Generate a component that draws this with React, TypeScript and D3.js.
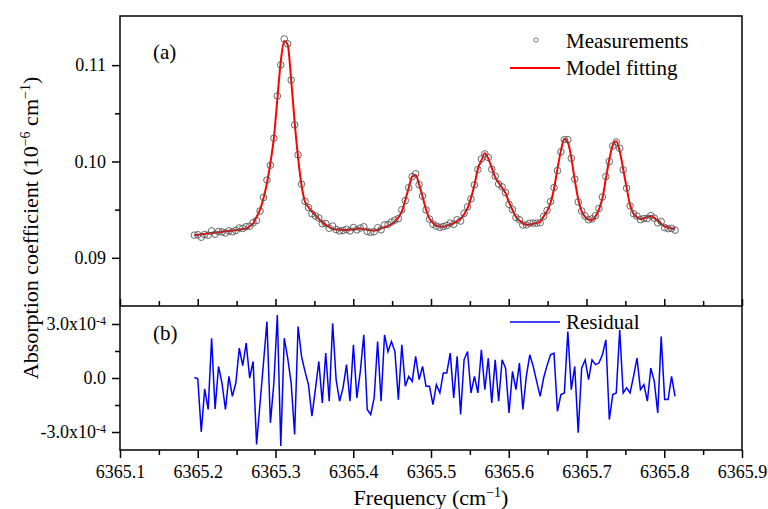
import React, { useEffect, useRef } from 'react'
import * as d3 from 'd3'

const width = 768
const height = 509
const left = 120
const right = 742
const top = 16
const split = 306
const bottom = 450
const serif = '"Liberation Serif", "Times New Roman", serif'

// sampling grid of the measurement (cm^-1)
const freqStart = 6365.1956
const freqStep = 0.004448

// fitted absorption coefficient (10^-6 cm^-1)
const fitValues = [
  0.09235, 0.0924, 0.09244, 0.09248, 0.09252, 0.09257, 0.09262, 0.09266, 0.09271, 0.09275,
  0.09279, 0.09281, 0.09287, 0.09293, 0.09298, 0.09304, 0.09328, 0.09355, 0.09425, 0.095,
  0.09618, 0.09775, 0.09986, 0.10244, 0.10645, 0.1104, 0.1125, 0.1121, 0.10848, 0.10411,
  0.10041, 0.09753, 0.09582, 0.09526, 0.09479, 0.09441, 0.09404, 0.09368, 0.09342, 0.0932,
  0.09299, 0.09294, 0.09292, 0.0929, 0.09288, 0.09292, 0.09296, 0.09301, 0.09305, 0.09298,
  0.09291, 0.09285, 0.09282, 0.09292, 0.09304, 0.09318, 0.09332, 0.09351, 0.09377, 0.09419,
  0.09481, 0.09599, 0.09727, 0.09845, 0.0986, 0.0976, 0.09634, 0.09502, 0.09407, 0.09364,
  0.09332, 0.09325, 0.09322, 0.09333, 0.09346, 0.09359, 0.09383, 0.09402, 0.09451, 0.09515,
  0.0962, 0.09756, 0.09925, 0.1001, 0.10085, 0.1003, 0.09933, 0.09838, 0.09779, 0.09726,
  0.09671, 0.09575, 0.09497, 0.09425, 0.09387, 0.09358, 0.09342, 0.09347, 0.09354, 0.09362,
  0.09374, 0.0943, 0.09485, 0.09571, 0.09715, 0.09924, 0.1011, 0.10235, 0.102, 0.1004,
  0.0981, 0.0961, 0.09481, 0.09425, 0.09396, 0.09394, 0.0943, 0.09504, 0.09618, 0.09823,
  0.10023, 0.1017, 0.1021, 0.1011, 0.09922, 0.09728, 0.09547, 0.09457, 0.09422, 0.09403,
  0.09412, 0.09422, 0.09433, 0.09414, 0.09382, 0.09354, 0.09326, 0.09315, 0.09305, 0.09298,
]

// residual (measurement - fit), in units of 1e-4
const residuals = [
  0.03, -0.04, -2.99, -0.61, -1.75, 2.21, -1.72, 0.64, -0.28, -1.75,
  0.09, -1.02, -0.28, 1.66, 0.68, 1.94, 0, 0.92, -3.69, -1.4,
  0.85, 3.13, -2.49, -0.28, 3.5, -3.78, 2.21, 1.1, -0.28, -3.14,
  2.86, 1.2, 0.37, -0.37, -2.12, -0.65, 0.92, -1.38, 1.38, -1.29,
  3.04, -0.09, -1.29, -0.55, 0.74, -1.29, 1.84, -1.11, 0.37, 2.4,
  -1.75, -2.03, -1.11, 2.03, -1.29, 2.4, 1.47, 2.03, 1.47, -1.2,
  1.84, -0.46, 0.09, -0.19, 1.2, -0.09, 0.64, -0.46, -0.46, -1.48,
  -0.37, -0.83, 0.28, 0.28, 1.38, -1.11, 1.2, -2.03, 1.01, 1.47,
  -0.83, 0.09, -0.83, 1.57, -0.65, 1.1, -1.38, 1.01, -1.29, 1.01,
  0.55, -1.94, 0.37, -0.65, 0.83, -1.75, 0.09, 1.29, 0.64, -0.2,
  -1.02, 0.0, 0.7, 1.29, 1.38, -1.85, -0.92, -0.83, 2.58, -0.65,
  0.64, -3.04, 0.55, 1.01, -0.09, 1.01, 0.74, 0.83, 1.29, 2.12,
  -2.31, -0.92, -0.83, 2.67, -0.83, -0.55, -0.83, 0.09, 1.1, -0.65,
  -0.37, -1.29, 0.55, -0.19, -1.94, 2.3, -1.2, -1.2, 0.09, -1.02,
]

const xTicks = [6365.1, 6365.2, 6365.3, 6365.4, 6365.5, 6365.6, 6365.7, 6365.8, 6365.9]
const xMinorTicks = [6365.15, 6365.25, 6365.35, 6365.45, 6365.55, 6365.65, 6365.75, 6365.85]
const topTicks = [0.09, 0.1, 0.11]
const topMinorTicks = [0.095, 0.105]
const residualTicks = [-3e-4, 0, 3e-4]
const residualMinorTicks = [-1.5e-4, 1.5e-4]
const residualLabels = ['-3.0x10', '0.0', '3.0x10']

export default function App () {
  const ref = useRef<SVGSVGElement>(null)

  useEffect(() => {
    const svg = d3.select(ref.current)
    svg.selectAll('*').remove()

    const x = d3.scaleLinear().domain([6365.1, 6365.9]).range([left, right])
    const yTop = d3.scaleLinear().domain([0.085, 0.1151]).range([split, top])
    const yBot = d3.scaleLinear().domain([-4e-4, 4e-4]).range([bottom, split])

    const rows = fitValues.map((f, i) => ({
      freq: freqStart + i * freqStep,
      fit: f,
      meas: f + residuals[i] * 1e-4,
      res: residuals[i] * 1e-4,
    }))

    const styleAxis = (g: any) => {
      g.attr('font-family', serif).attr('font-size', 18)
      g.select('.domain').remove()
      g.selectAll('line').attr('stroke', '#000').attr('stroke-width', 1.5)
      g.selectAll('text').attr('fill', '#000')
        .style('font-family', serif).style('font-size', '18px')
    }

    // x axis (bottom)
    svg.append('g').attr('transform', `translate(0,${bottom})`)
      .call(d3.axisBottom(x).tickValues(xTicks).tickSize(8).tickPadding(7).tickFormat(d3.format('.1f')))
      .call(styleAxis)
    svg.append('g').attr('transform', `translate(0,${bottom})`)
      .call(d3.axisBottom(x).tickValues(xMinorTicks).tickSize(5).tickFormat(() => ''))
      .call(styleAxis)
    // ticks on top edge of lower panel
    svg.append('g').attr('transform', `translate(0,${split})`)
      .call(d3.axisTop(x).tickValues(xTicks).tickSize(7).tickFormat(() => ''))
      .call(styleAxis)
    svg.append('g').attr('transform', `translate(0,${split})`)
      .call(d3.axisTop(x).tickValues(xMinorTicks).tickSize(5).tickFormat(() => ''))
      .call(styleAxis)

    // y axis upper
    svg.append('g').attr('transform', `translate(${left},0)`)
      .call(d3.axisLeft(yTop).tickValues(topTicks).tickSize(8).tickPadding(6).tickFormat(d3.format('.2f')))
      .call(styleAxis)
    svg.append('g').attr('transform', `translate(${left},0)`)
      .call(d3.axisLeft(yTop).tickValues(topMinorTicks).tickSize(5).tickFormat(() => ''))
      .call(styleAxis)

    // y axis lower, labels with superscript exponent
    const resAxis = svg.append('g').attr('transform', `translate(${left},0)`)
      .call(d3.axisLeft(yBot).tickValues(residualTicks).tickSize(8).tickPadding(6).tickFormat((_, i) => residualLabels[i]))
      .call(styleAxis)
    resAxis.selectAll('text').each(function (d: any) {
      if (d !== 0) {
        d3.select(this).append('tspan').attr('dy', '-0.45em').style('font-size', '12px').text('-4')
      }
    })
    svg.append('g').attr('transform', `translate(${left},0)`)
      .call(d3.axisLeft(yBot).tickValues(residualMinorTicks).tickSize(5).tickFormat(() => ''))
      .call(styleAxis)

    // frame
    const frame = svg.append('g').attr('stroke', '#000').attr('stroke-width', 1.5)
    frame.append('rect').attr('x', left).attr('y', top)
      .attr('width', right - left).attr('height', bottom - top).attr('fill', 'none')
    frame.append('line').attr('x1', left).attr('x2', right).attr('y1', split).attr('y2', split)

    // fitted curve
    const fitLine = d3.line<any>().x(d => x(d.freq)).y(d => yTop(d.fit)).curve(d3.curveMonotoneX)
    svg.append('path').attr('d', fitLine(rows))
      .attr('fill', 'none').attr('stroke', '#ff0000').attr('stroke-width', 2)

    // measurements
    svg.append('g').selectAll('circle').data(rows).join('circle')
      .attr('cx', d => x(d.freq)).attr('cy', d => yTop(d.meas)).attr('r', 3.3)
      .attr('fill', 'none').attr('stroke', '#555').attr('stroke-width', 0.9)

    // residual
    const resLine = d3.line<any>().x(d => x(d.freq)).y(d => yBot(d.res))
    svg.append('path').attr('d', resLine(rows))
      .attr('fill', 'none').attr('stroke', '#0000ff').attr('stroke-width', 1.5)

    // panel tags
    svg.append('text').attr('x', 153).attr('y', 59).attr('font-family', serif).attr('font-size', 21).text('(a)')
    svg.append('text').attr('x', 153).attr('y', 340).attr('font-family', serif).attr('font-size', 21).text('(b)')

    // legends
    const leg = svg.append('g').attr('font-family', serif).attr('font-size', 21)
    leg.append('circle').attr('cx', 536).attr('cy', 40).attr('r', 2.2)
      .attr('fill', 'none').attr('stroke', '#555').attr('stroke-width', 0.8)
    leg.append('text').attr('x', 566).attr('y', 48).text('Measurements')
    leg.append('line').attr('x1', 510).attr('x2', 560).attr('y1', 68).attr('y2', 68)
      .attr('stroke', '#ff0000').attr('stroke-width', 2)
    leg.append('text').attr('x', 566).attr('y', 75).text('Model fitting')
    leg.append('line').attr('x1', 510).attr('x2', 560).attr('y1', 322).attr('y2', 322)
      .attr('stroke', '#0000ff').attr('stroke-width', 1.5)
    leg.append('text').attr('x', 566).attr('y', 329).text('Residual')

    // axis titles
    const xt = svg.append('text').attr('x', (left + right) / 2).attr('y', 505)
      .attr('text-anchor', 'middle').attr('font-family', serif).attr('font-size', 22)
    xt.append('tspan').text('Frequency (cm')
    xt.append('tspan').attr('dy', -8).attr('font-size', 14).text('\u22121')
    xt.append('tspan').attr('dy', 8).text(')')

    const yt = svg.append('text').attr('transform', 'translate(38,228) rotate(-90)')
      .attr('text-anchor', 'middle').attr('font-family', serif).attr('font-size', 22)
    yt.append('tspan').text('Absorption coefficient (10')
    yt.append('tspan').attr('dy', -8).attr('font-size', 14).text('\u22126')
    yt.append('tspan').attr('dy', 8).text(' cm')
    yt.append('tspan').attr('dy', -8).attr('font-size', 14).text('\u22121')
    yt.append('tspan').attr('dy', 8).text(')')
  }, [])

  return (
    <svg ref={ref} width={width} height={height}
      style={{ position: 'absolute', left: 0, top: 0, background: '#fff' }} />
  )
}
